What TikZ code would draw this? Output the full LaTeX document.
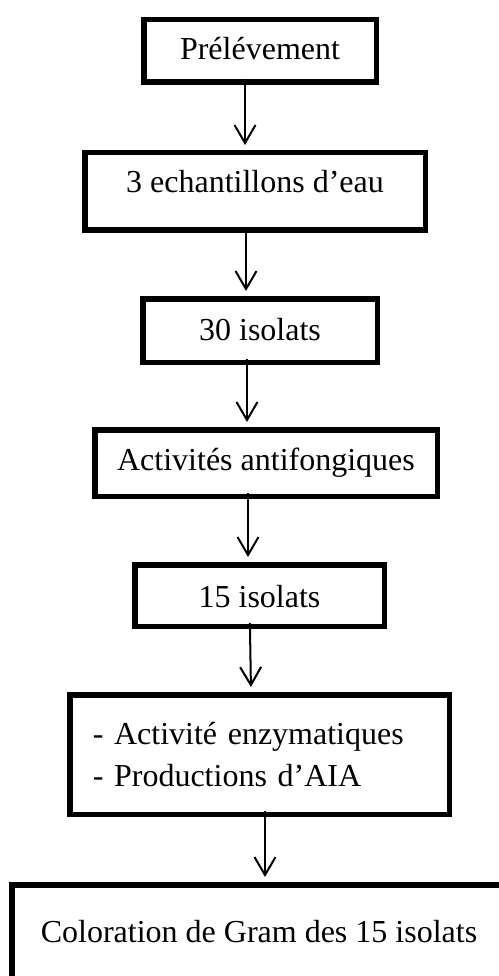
\documentclass[tikz,border=0pt]{standalone}
\usepackage{fontspec}
\setmainfont{Liberation Serif}
\usetikzlibrary{arrows.meta}
\tikzset{
  box/.style={draw,line width=5.5pt,inner sep=0pt,align=center},
  arr/.style={line width=2pt,shorten <=-6pt,shorten >=5pt,
    -{Straight Barb[length=18pt,width=21pt,line width=2pt]}}
}
\begin{document}
\begin{tikzpicture}[x=1pt,y=-1pt,font=\fontsize{32}{42}\selectfont]
\useasboundingbox (0,0) rectangle (498,976);
\node[box,minimum width=232.5pt,text height=40.25pt,text depth=22.25pt] (prel) at (260,51) {Prélévement};
\node[box,minimum width=340.5pt,text height=40.25pt,text depth=37.25pt] (ech) at (255,191.5) {3 echantillons d’eau};
\node[box,minimum width=234.5pt,text height=41.25pt,text depth=22.25pt] (iso30) at (260,330.5) {30 isolats};
\node[box,minimum width=342.5pt,text height=40.25pt,text depth=26.25pt] (antif) at (266,463) {Activités antifongiques};
\node[box,minimum width=249.5pt,text height=42.75pt,text depth=18.75pt] (iso15) at (259.5,595.5) {15 isolats};
\node[box,minimum width=379.5pt,minimum height=119.5pt,inner xsep=23pt,text width=333.5pt,align=left] (enz) at (259.5,754.5)
  {- Activité enzymatiques\\- Productions d’AIA};
\node[box,minimum width=494.5pt,text height=57.25pt,text depth=40.25pt] (gram) at (259,933.5) {Coloration de Gram des 15 isolats};
% fleches
\draw[arr] (prel.south -| 245,0) -- (ech.north -| 245,0);
\draw[arr] (ech.south -| 246,0) -- (iso30.north -| 246,0);
\draw[arr] (iso30.south -| 247,0) -- (antif.north -| 247,0);
\draw[arr] (antif.south -| 248,0) -- (iso15.north -| 248,0);
\draw[arr] (iso15.south -| 250,0) -- (enz.north -| 251,0);
\draw[arr] (enz.south -| 265,0) -- (gram.north -| 265,0);
\end{tikzpicture}
\end{document}
